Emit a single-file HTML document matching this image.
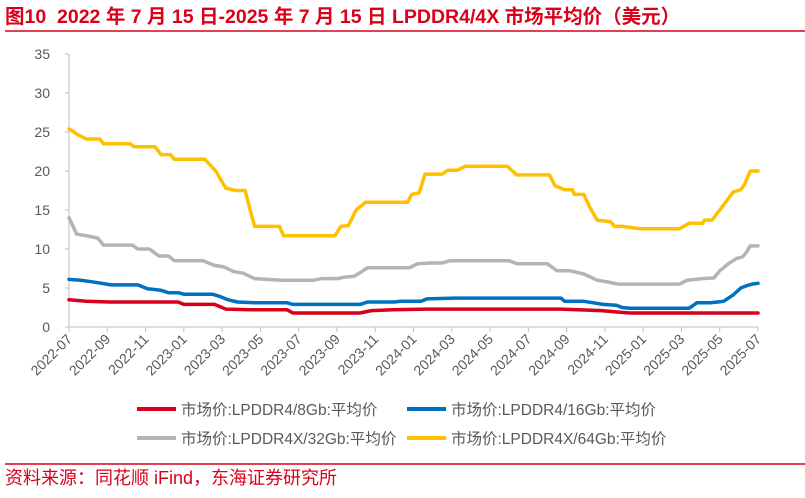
<!DOCTYPE html>
<html><head><meta charset="utf-8"><style>
body{margin:0;background:#fff;width:805px;height:493px;overflow:hidden}
text{font-family:"Liberation Sans","Noto Sans CJK SC",sans-serif}
</style></head><body>
<svg id="chart" width="805" height="493" xmlns="http://www.w3.org/2000/svg">
<text x="5" y="23" font-size="19.5" font-weight="bold" fill="#d9001b">图10&#160;&#160;2022 年 7 月 15 日-2025 年 7 月 15 日 LPDDR4/4X 市场平均价（美元）</text>
<line x1="5" y1="31" x2="805" y2="31" stroke="#d9001b" stroke-width="1.5"/>
<g id="axes"></g>
<g id="series"></g>
<g>
<line x1="137" y1="409" x2="176" y2="409" stroke="#d9001b" stroke-width="4"/>
<text x="181" y="415" font-size="15.5" fill="#595959">市场价:LPDDR4/8Gb:平均价</text>
<line x1="407" y1="409" x2="446" y2="409" stroke="#0070c0" stroke-width="4"/>
<text x="451" y="415" font-size="15.5" fill="#595959">市场价:LPDDR4/16Gb:平均价</text>
<line x1="137" y1="438" x2="176" y2="438" stroke="#b4b4b4" stroke-width="4"/>
<text x="181" y="444" font-size="15.5" fill="#595959">市场价:LPDDR4X/32Gb:平均价</text>
<line x1="407" y1="438" x2="446" y2="438" stroke="#ffc000" stroke-width="4"/>
<text x="451" y="444" font-size="15.5" fill="#595959">市场价:LPDDR4X/64Gb:平均价</text>
</g>
<line x1="5" y1="464" x2="805" y2="464" stroke="#d9001b" stroke-width="1.5"/>
<text x="5" y="484" font-size="18" fill="#d9001b">资料来源：同花顺 iFind，东海证券研究所</text>
</svg>
<script>
const xTickLabels=["2022-07","2022-09","2022-11","2023-01","2023-03","2023-05","2023-07","2023-09","2023-11","2024-01","2024-03","2024-05","2024-07","2024-09","2024-11","2025-01","2025-03","2025-05","2025-07"];
const yTicks=[0,5,10,15,20,25,30,35];
const m64=[0,0.5,0.9,1.6,1.8,3.2,3.4,4.5,4.8,5.3,5.5,7.1,7.7,7.9,8.2,8.7,9.2,9.5,9.7,11,11.2,13.9,14.2,14.6,15,15.5,17.7,17.9,18.3,18.6,19.5,19.8,20.3,20.7,22.9,23.4,25.1,25.4,25.9,26.3,26.4,26.9,27.2,27.6,28.3,28.5,28.9,29.8,31.9,32.4,33.1,33.2,33.6,34,34.4,34.7,35.1,35.3,35.6,36];
const v64=[25.4,24.6,24.1,24.1,23.5,23.5,23.1,23.1,22.1,22.1,21.5,21.5,19.9,19,17.8,17.5,17.5,14.7,12.9,12.9,11.7,11.7,12.9,13,15,16,16,17,17.2,19.6,19.6,20.1,20.1,20.6,20.6,19.5,19.5,18.1,17.6,17.6,17,17,15.4,13.7,13.5,12.9,12.9,12.6,12.6,13.3,13.3,13.7,13.7,15,16.3,17.3,17.6,18.3,20,20];
const m32=[0,0.4,0.9,1.5,1.8,3.3,3.6,4.2,4.7,5.2,5.5,7.0,7.6,8.1,8.6,9.1,9.7,11.1,12.8,13.2,14.0,14.4,14.9,15.3,15.6,17.8,18.2,18.9,19.5,19.9,23.0,23.4,25.0,25.5,26.2,26.9,27.6,28.1,28.7,31.9,32.3,33.1,33.7,34.0,34.5,34.9,35.2,35.4,35.6,36];
const v32=[14,11.9,11.7,11.4,10.5,10.5,10,10,9.1,9.1,8.5,8.5,7.9,7.7,7.1,6.9,6.2,6,6,6.2,6.2,6.4,6.5,7.1,7.6,7.6,8.1,8.2,8.2,8.5,8.5,8.1,8.1,7.2,7.2,6.8,6,5.8,5.5,5.5,6,6.2,6.3,7.2,8.2,8.8,9,9.6,10.4,10.4];
const m16=[0,0.6,1.2,1.7,2.2,3.6,4.1,4.8,5.2,5.7,6.0,7.5,7.9,8.3,8.8,9.7,11.4,11.7,15.2,15.6,17.0,17.3,18.4,18.7,20.1,25.7,25.9,26.9,27.4,27.9,28.6,28.9,29.3,32.4,32.8,33.5,33.9,34.2,34.7,35.1,35.4,35.7,36];
const v16=[6.1,6,5.8,5.6,5.4,5.4,4.9,4.7,4.4,4.4,4.2,4.2,3.9,3.5,3.2,3.1,3.1,2.9,2.9,3.2,3.2,3.3,3.3,3.6,3.7,3.7,3.3,3.3,3.1,2.9,2.8,2.5,2.4,2.4,3.1,3.1,3.2,3.3,4.1,5,5.3,5.5,5.6];
const m8=[0,0.9,2.1,5.7,6.0,7.6,8.2,9.5,11.4,11.7,15.2,15.8,16.9,18.7,25.7,27.8,28.8,29.3,36];
const v8=[3.5,3.3,3.2,3.2,2.9,2.9,2.3,2.2,2.2,1.8,1.8,2.1,2.2,2.3,2.3,2.1,1.9,1.8,1.8];
const NS="http://www.w3.org/2000/svg";
const X0=69,X1=758,Y0=327,Y1=54;
function xs(m){return X0+(X1-X0)*m/36;}
function ys(v){return Y0-(Y0-Y1)*v/35;}
function mk(tag,attrs,parent){const e=document.createElementNS(NS,tag);for(const k in attrs)e.setAttribute(k,attrs[k]);parent.appendChild(e);return e;}
const ax=document.getElementById('axes');
const yl=mk('line',{x1:X0,y1:Y1,x2:X0,y2:Y0,stroke:'#bfbfbf','stroke-width':1},ax);


const xl=mk('line',{x1:X0,y1:Y0,x2:X1,y2:Y0,stroke:'#bfbfbf','stroke-width':1},ax);


yTicks.forEach(v=>{
  mk('line',{x1:X0-4,y1:ys(v),x2:X0,y2:ys(v),stroke:'#bfbfbf'},ax);
  const t=mk('text',{x:50,y:ys(v)+5,'font-size':14,fill:'#595959','text-anchor':'end'},ax);
  t.textContent=v;
  
  
});
xTickLabels.forEach((l,i)=>{
  const x=xs(i*2);
  mk('line',{x1:x,y1:Y0,x2:x,y2:Y0+5,stroke:'#bfbfbf'},ax);
  const t=mk('text',{x:x+4,y:Y0+13,'font-size':14,fill:'#595959','text-anchor':'end',transform:`rotate(-45 ${x+4} ${Y0+13})`},ax);
  t.textContent=l;
  
  
});
const sg=document.getElementById('series');
[[m32,v32,'#b4b4b4','line-32gb'],[m64,v64,'#ffc000','line-64gb'],[m16,v16,'#0070c0','line-16gb'],[m8,v8,'#d9001b','line-8gb']].forEach(s=>{
  const d=s[0].map((m,i)=>(i?'L':'M')+xs(m).toFixed(1)+','+ys(s[1][i]).toFixed(1)).join('');
  const p=mk('path',{d:d,fill:'none',stroke:s[2],'stroke-width':3.5,'stroke-linejoin':'round','stroke-linecap':'round'},sg);
  
  
});
</script>
</body></html>
